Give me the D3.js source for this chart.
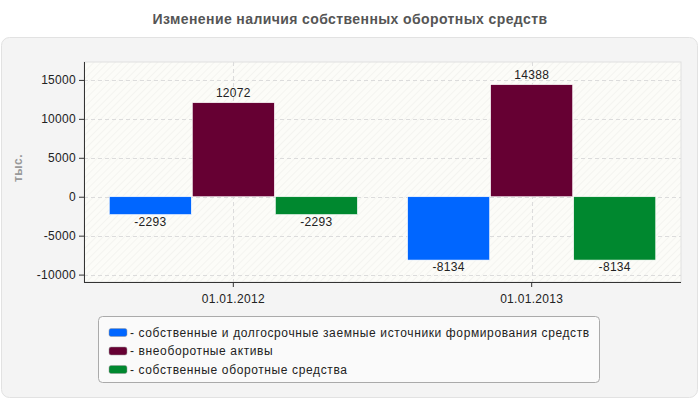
<!DOCTYPE html>
<html><head><meta charset="utf-8">
<script src="https://cdn.jsdelivr.net/npm/d3@7"></script>
<style>body{margin:0;background:#fff;}svg{display:block;font-family:Arial,"Liberation Sans",sans-serif;}</style>
</head><body><svg id="c" width="700" height="400"></svg>
<script>
const categories = ["01.01.2012", "01.01.2013"];
const seriesNames = [
  "собственные и долгосрочные заемные источники формирования средств",
  "внеоборотные активы",
  "собственные оборотные средства"
];
const seriesColors = ["#0066ff", "#660033", "#00882f"];
const sourcesValues = [-2293, -8134];
const nonCurrentValues = [12072, 14388];
const workingCapitalValues = [-2293, -8134];
const yTicks = [-10000, -5000, 0, 5000, 10000, 15000];
const title = "Изменение наличия собственных оборотных средств";
const yLabel = "тыс.";

const series = [sourcesValues, nonCurrentValues, workingCapitalValues];
const svg = d3.select("#c");
const defs = svg.append("defs");
const pat = defs.append("pattern").attr("id","hatch").attr("patternUnits","userSpaceOnUse")
  .attr("width",5).attr("height",5).attr("patternTransform","rotate(45)");
pat.append("rect").attr("width",5).attr("height",5).attr("fill","#fcfcf8");
pat.append("line").attr("x1",0).attr("y1",0).attr("x2",0).attr("y2",5).attr("stroke","#efefeb").attr("stroke-width",1.2);

svg.append("text").attr("x",350).attr("y",24).attr("text-anchor","middle")
  .attr("font-size",14).attr("font-weight","bold").attr("letter-spacing",0.4).attr("fill","#555").text(title);

svg.append("rect").attr("x",1.5).attr("y",37.5).attr("width",696).attr("height",360).attr("rx",8)
  .attr("fill","#f4f4f4").attr("stroke","#e2e2e2");

const L=84, R=681, T=62, B=282;
const y = d3.scaleLinear().domain([-10950, 17300]).range([B, T]);
const x0 = d3.scaleBand().domain(categories).range([L, R]).paddingInner(0.165).paddingOuter(0.083);
const x1 = d3.scaleBand().domain(d3.range(series.length)).range([0, x0.bandwidth()]);

svg.append("rect").attr("x",L).attr("y",T).attr("width",R-L).attr("height",B-T)
  .attr("fill","url(#hatch)").attr("stroke","#e0e0e0");

const g = svg.append("g");
g.selectAll(".hg").data(yTicks).join("line")
  .attr("x1",L).attr("x2",R).attr("y1",d=>Math.round(y(d))+0.5).attr("y2",d=>Math.round(y(d))+0.5)
  .attr("stroke","#dcdcdc").attr("stroke-dasharray","4,3");
const xc = d => x0(d)+x0.bandwidth()/2;
g.selectAll(".vg").data(categories).join("line")
  .attr("x1",d=>Math.round(xc(d))+0.5).attr("x2",d=>Math.round(xc(d))+0.5).attr("y1",T).attr("y2",B)
  .attr("stroke","#dcdcdc").attr("stroke-dasharray","4,3");

const bars = svg.append("g");
series.forEach((vals, si) => {
  bars.selectAll(".b"+si).data(categories).join("rect")
    .attr("x", (c)=>x0(c)+x1(si)+0.5)
    .attr("y", (c,i)=>y(Math.max(0,vals[i])))
    .attr("width", x1.bandwidth()-1)
    .attr("height", (c,i)=>Math.abs(y(vals[i])-y(0)))
    .attr("fill", seriesColors[si]).attr("stroke","#fff").attr("stroke-width",0.6);
  bars.selectAll(".l"+si).data(categories).join("text")
    .attr("x",(c)=>x0(c)+x1(si)+x1.bandwidth()/2)
    .attr("y",(c,i)=>vals[i]>=0 ? y(vals[i])-6 : y(vals[i])+11)
    .attr("text-anchor","middle").attr("font-size",12).attr("letter-spacing",0.3).attr("fill","#222")
    .text((c,i)=>vals[i]);
});

const ya = svg.append("g").attr("transform",`translate(${L},0)`)
  .call(d3.axisLeft(y).tickValues(yTicks).tickSize(5).tickSizeOuter(0).tickFormat(d=>d));
ya.select(".domain").attr("stroke","#333").attr("d",`M0.5,${T}V${B}`);
ya.selectAll(".tick line").attr("stroke","#333");
ya.selectAll("text").attr("font-size",12).attr("fill","#222").attr("letter-spacing",0.3).attr("font-family","Arial,'Liberation Sans',sans-serif");

const xa = svg.append("g").attr("transform",`translate(0,${B})`)
  .call(d3.axisBottom(x0).tickSize(5).tickSizeOuter(0));
xa.select(".domain").attr("stroke","#333").attr("d",`M${L},0.5H${R}`);
xa.selectAll(".tick line").attr("stroke","#333");
xa.selectAll("text").attr("font-size",12).attr("fill","#222").attr("letter-spacing",0.3).attr("dy","1.1em").attr("font-family","Arial,'Liberation Sans',sans-serif");

svg.append("text").attr("transform","translate(22,168) rotate(-90)").attr("text-anchor","middle")
  .attr("font-size",12).attr("font-weight","bold").attr("letter-spacing",0.5).attr("fill","#999").text(yLabel);

const lg = svg.append("g");
lg.append("rect").attr("x",98.5).attr("y",316.5).attr("width",501).attr("height",66).attr("rx",4)
  .attr("fill","#fafafa").attr("stroke","#aaa");
seriesNames.forEach((n,i)=>{
  const yy = 332 + i*18.5;
  lg.append("rect").attr("x",109).attr("y",yy-3.5).attr("width",18).attr("height",8).attr("rx",2)
    .attr("fill",seriesColors[i]).attr("stroke","#999").attr("stroke-width",0.5);
  lg.append("text").attr("x",130).attr("y",yy+4.5).attr("font-size",12).attr("letter-spacing",0.62).attr("fill","#222").text("- "+n);
});
</script></body></html>
